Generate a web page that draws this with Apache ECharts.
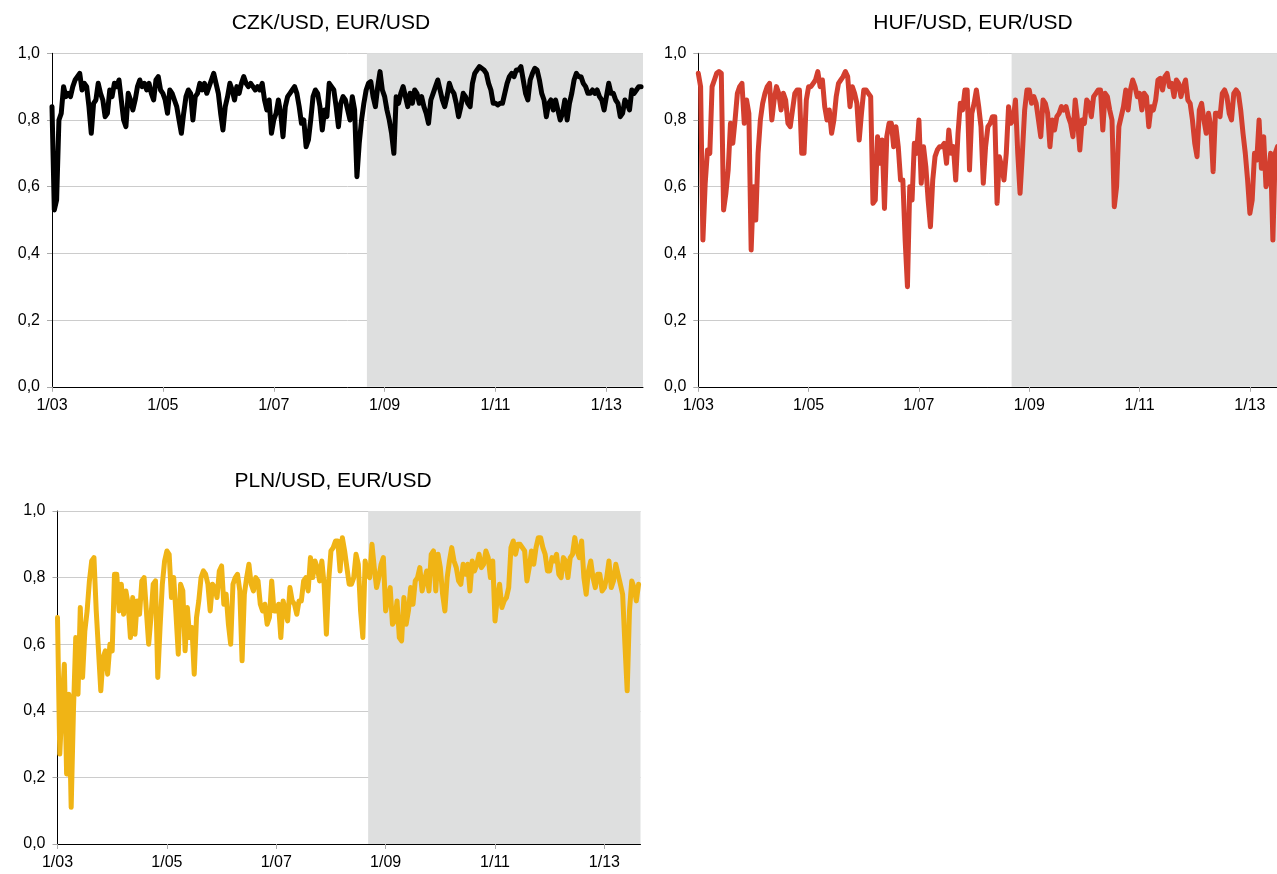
<!DOCTYPE html>
<html>
<head>
<meta charset="utf-8">
<script src="https://cdn.jsdelivr.net/npm/echarts@6/dist/echarts.min.js"></script>
<style>
  html, body { margin: 0; padding: 0; background: #fff; }
  #chart { width: 1277px; height: 874px; }
</style>
</head>
<body>
<div id="chart"></div>
<script>
// Rolling correlations of CEE currencies vs EUR/USD, semi-monthly observations from 1 Jan 2003.
// One row per calendar year (24 observations), 2013 ends mid-August.
const startYear = 2003;
const obsPerYear = 24;

const czk = [
  0.84,0.53,0.56,0.80,0.82,0.90,0.87,0.88,0.87,0.90,0.92,0.93,0.94,0.89,0.91,0.90,0.84,0.76,0.85,0.86,0.91,0.88,0.86,0.81,
  0.82,0.89,0.87,0.91,0.90,0.92,0.86,0.80,0.78,0.88,0.86,0.83,0.86,0.90,0.92,0.90,0.91,0.89,0.91,0.88,0.86,0.92,0.93,0.89,
  0.88,0.86,0.82,0.89,0.88,0.86,0.84,0.80,0.76,0.82,0.87,0.89,0.88,0.80,0.87,0.88,0.91,0.89,0.91,0.88,0.90,0.92,0.94,0.91,
  0.88,0.82,0.77,0.84,0.87,0.91,0.89,0.86,0.90,0.88,0.91,0.93,0.91,0.90,0.91,0.90,0.89,0.90,0.89,0.91,0.86,0.83,0.86,0.76,
  0.80,0.82,0.86,0.82,0.75,0.84,0.87,0.88,0.89,0.90,0.88,0.84,0.79,0.80,0.72,0.74,0.80,0.87,0.89,0.88,0.84,0.77,0.83,0.81,
  0.91,0.90,0.89,0.84,0.78,0.85,0.87,0.86,0.83,0.80,0.87,0.83,0.63,0.73,0.80,0.85,0.89,0.91,0.915,0.87,0.84,0.90,0.945,0.89,
  0.87,0.83,0.80,0.76,0.70,0.87,0.85,0.88,0.90,0.87,0.84,0.88,0.85,0.89,0.88,0.85,0.87,0.84,0.82,0.79,0.86,0.88,0.90,0.92,
  0.89,0.86,0.84,0.87,0.91,0.89,0.88,0.85,0.81,0.84,0.88,0.87,0.85,0.84,0.91,0.94,0.95,0.96,0.955,0.95,0.94,0.91,0.89,0.85,
  0.85,0.845,0.85,0.85,0.88,0.91,0.93,0.94,0.93,0.95,0.95,0.96,0.92,0.88,0.86,0.92,0.94,0.955,0.95,0.92,0.88,0.86,0.81,0.85,
  0.86,0.83,0.86,0.83,0.80,0.82,0.86,0.80,0.85,0.88,0.92,0.94,0.93,0.93,0.91,0.90,0.88,0.88,0.89,0.88,0.89,0.87,0.86,0.83,
  0.87,0.91,0.88,0.88,0.86,0.85,0.81,0.82,0.86,0.85,0.83,0.89,0.88,0.89,0.90,0.90
];

const huf = [
  0.94,0.90,0.44,0.61,0.71,0.70,0.90,0.92,0.94,0.945,0.94,0.53,0.58,0.65,0.79,0.73,0.80,0.88,0.90,0.91,0.79,0.86,0.82,0.41,
  0.60,0.50,0.70,0.80,0.85,0.88,0.90,0.91,0.80,0.86,0.90,0.88,0.83,0.88,0.86,0.79,0.78,0.83,0.88,0.89,0.89,0.70,0.70,0.86,
  0.90,0.90,0.91,0.92,0.945,0.90,0.92,0.84,0.80,0.83,0.76,0.80,0.87,0.91,0.92,0.93,0.945,0.93,0.84,0.90,0.88,0.85,0.74,0.82,
  0.89,0.89,0.88,0.87,0.55,0.56,0.75,0.67,0.74,0.535,0.75,0.79,0.79,0.72,0.78,0.72,0.62,0.62,0.44,0.30,0.60,0.56,0.73,0.70,
  0.80,0.61,0.72,0.66,0.56,0.48,0.62,0.69,0.71,0.72,0.72,0.73,0.67,0.77,0.70,0.72,0.62,0.76,0.85,0.83,0.89,0.89,0.65,0.82,
  0.85,0.89,0.84,0.78,0.61,0.72,0.78,0.79,0.81,0.81,0.55,0.69,0.66,0.62,0.70,0.84,0.79,0.80,0.86,0.70,0.58,0.70,0.83,0.89,
  0.89,0.85,0.87,0.85,0.80,0.75,0.86,0.85,0.82,0.72,0.80,0.77,0.81,0.82,0.84,0.83,0.84,0.81,0.79,0.75,0.86,0.80,0.71,0.80,
  0.79,0.86,0.85,0.81,0.87,0.88,0.89,0.89,0.77,0.88,0.87,0.83,0.80,0.54,0.60,0.78,0.81,0.84,0.89,0.83,0.89,0.92,0.90,0.87,
  0.88,0.83,0.88,0.87,0.78,0.84,0.83,0.86,0.92,0.925,0.89,0.93,0.94,0.90,0.91,0.87,0.92,0.91,0.87,0.90,0.92,0.86,0.85,0.80,
  0.73,0.69,0.83,0.85,0.80,0.76,0.82,0.78,0.645,0.82,0.82,0.81,0.88,0.89,0.87,0.82,0.80,0.88,0.89,0.88,0.83,0.76,0.70,0.62,
  0.52,0.56,0.70,0.68,0.80,0.655,0.75,0.60,0.62,0.70,0.44,0.70,0.72,0.68,0.70,0.72
];

const pln = [
  0.68,0.27,0.42,0.54,0.21,0.45,0.11,0.40,0.62,0.45,0.71,0.50,0.64,0.70,0.79,0.85,0.86,0.70,0.58,0.46,0.56,0.58,0.51,0.60,
  0.58,0.81,0.81,0.70,0.78,0.69,0.76,0.72,0.62,0.74,0.63,0.73,0.69,0.79,0.80,0.70,0.60,0.68,0.78,0.79,0.50,0.65,0.78,0.85,
  0.88,0.87,0.74,0.80,0.69,0.57,0.78,0.76,0.58,0.71,0.62,0.65,0.51,0.68,0.73,0.80,0.82,0.81,0.78,0.70,0.78,0.77,0.74,0.82,
  0.835,0.72,0.75,0.66,0.60,0.78,0.80,0.81,0.76,0.55,0.75,0.80,0.84,0.78,0.76,0.80,0.79,0.72,0.70,0.72,0.66,0.68,0.79,0.70,
  0.70,0.72,0.62,0.73,0.70,0.67,0.77,0.73,0.72,0.69,0.73,0.73,0.79,0.80,0.76,0.86,0.80,0.85,0.83,0.79,0.85,0.78,0.63,0.79,
  0.88,0.89,0.91,0.91,0.82,0.92,0.88,0.83,0.78,0.78,0.80,0.87,0.84,0.70,0.62,0.85,0.81,0.80,0.90,0.83,0.77,0.80,0.84,0.86,
  0.70,0.74,0.77,0.66,0.67,0.73,0.62,0.61,0.74,0.66,0.70,0.77,0.72,0.79,0.80,0.83,0.76,0.79,0.82,0.76,0.87,0.88,0.76,0.87,
  0.83,0.75,0.70,0.80,0.85,0.89,0.85,0.83,0.79,0.78,0.84,0.81,0.84,0.76,0.85,0.82,0.84,0.87,0.83,0.84,0.88,0.86,0.80,0.85,
  0.67,0.74,0.78,0.71,0.73,0.74,0.77,0.89,0.91,0.87,0.90,0.90,0.89,0.88,0.79,0.83,0.88,0.84,0.89,0.92,0.92,0.89,0.87,0.82,
  0.82,0.86,0.85,0.87,0.81,0.80,0.86,0.85,0.80,0.86,0.87,0.92,0.88,0.86,0.91,0.80,0.75,0.82,0.85,0.80,0.77,0.81,0.81,0.76,
  0.77,0.80,0.85,0.77,0.79,0.84,0.81,0.78,0.75,0.60,0.46,0.70,0.79,0.77,0.73,0.78
];

const panelTitles = ['CZK/USD, EUR/USD', 'HUF/USD, EUR/USD', 'PLN/USD, EUR/USD'];
const lineColors = ['#000000', '#d33f2f', '#f0b415'];
const yearTicks = [0, 2, 4, 6, 8, 10];          // years after 2003 -> 1/03 ... 1/13
const crisisStart = 5.68;                        // September 2008
const axisEnd = 10.66;

const seriesValues = [czk, huf, pln];
const toPoints = vals => vals.map((v, i) => [i / obsPerYear, v]);

const grids = [
  { left: 52, top: 53.3, width: 591, height: 333.5, outerBoundsMode: 'none' },
  { left: 698.3, top: 53.3, width: 588, height: 333.5, outerBoundsMode: 'none' },
  { left: 57.5, top: 511, width: 583, height: 333, outerBoundsMode: 'none' }
];

const font = '"Liberation Sans", Arial, sans-serif';

const xAxes = grids.map((g, k) => ({
  type: 'value', gridIndex: k, min: 0, max: axisEnd,
  axisLine: { show: true, onZero: false, lineStyle: { color: '#000', width: 1 } },
  axisTick: { show: true, customValues: yearTicks, length: 5, lineStyle: { color: '#aaa' } },
  axisLabel: {
    customValues: yearTicks, margin: 11, color: '#000', fontSize: 16, fontFamily: font,
    formatter: v => '1/' + String((startYear + Math.round(v)) % 100).padStart(2, '0')
  },
  splitLine: { show: false }
}));

const yAxes = grids.map((g, k) => ({
  type: 'value', gridIndex: k, min: 0, max: 1, interval: 0.2,
  axisLine: { show: true, lineStyle: { color: '#000', width: 1 } },
  axisTick: { show: true, length: 5, lineStyle: { color: '#aaa' } },
  axisLabel: {
    margin: 12, color: '#000', fontSize: 16, fontFamily: font,
    formatter: v => v.toFixed(1).replace('.', ',')
  },
  splitLine: { show: true, lineStyle: { color: '#cccccc', width: 1 } }
}));

const series = [];
seriesValues.forEach((vals, k) => {
  // shaded post-crisis period
  series.push({
    type: 'line', xAxisIndex: k, yAxisIndex: k, data: [], z: 1, silent: true,
    markArea: {
      silent: true,
      itemStyle: { color: '#dedfdf' },
      data: [[{ xAxis: crisisStart }, { xAxis: axisEnd }]]
    }
  });
  series.push({
    type: 'line', xAxisIndex: k, yAxisIndex: k, z: 3,
    data: toPoints(vals),
    showSymbol: false, symbol: 'none', animation: false,
    lineStyle: { color: lineColors[k], width: 5, join: 'round', cap: 'round' }
  });
});

const titleCenters = [[331, 23], [973, 23], [333, 481]];
const graphic = panelTitles.map((t, k) => ({
  type: 'text', x: titleCenters[k][0], y: titleCenters[k][1],
  style: { text: t, fill: '#000', font: '21px ' + font, textAlign: 'center', textVerticalAlign: 'middle' }
}));

const chart = echarts.init(document.getElementById('chart'), null, { renderer: 'canvas' });
chart.setOption({
  animation: false,
  grid: grids,
  xAxis: xAxes,
  yAxis: yAxes,
  series: series,
  graphic: graphic
});
</script>
</body>
</html>
